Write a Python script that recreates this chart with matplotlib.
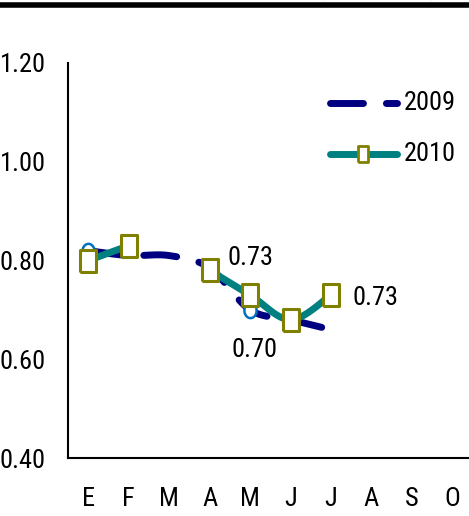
# coding=utf8
import numpy as np
import matplotlib
matplotlib.use('Agg')
import matplotlib.pyplot as plt
from matplotlib import font_manager

# the original uses a narrow font; take one if it is installed
fs = 15
family = ['Liberation Sans', 'DejaVu Sans']
for name in ['Liberation Sans Narrow', 'Roboto Condensed', 'Open Sans Condensed']:
    try:
        font_manager.findfont(font_manager.FontProperties(family=name),
                              fallback_to_default=False)
        family = [name, 'DejaVu Sans']
        fs = 19
        break
    except ValueError:
        pass
plt.rcParams['font.family'] = family

months = ['E', 'F', 'M', 'A', 'M', 'J', 'J', 'A', 'S', 'O']
y_ticks = [0.40, 0.60, 0.80, 1.00, 1.20]

# 2009 series (Jan-Jul)
x_2009 = [0, 1, 2, 3, 4, 5, 6]
v_2009 = [0.82, 0.81, 0.81, 0.785, 0.70, 0.68, 0.66]

# 2010 series (no value for March)
x_2010 = [0, 1, 3, 4, 5, 6]
v_2010 = [0.80, 0.83, 0.78, 0.73, 0.68, 0.73]


def smooth(xs, ys, n=30):
    # excel-like smoothed line (catmull-rom through the points)
    xs = np.asarray(xs, float)
    ys = np.asarray(ys, float)
    px = np.concatenate([[xs[0]], xs, [xs[-1]]])
    py = np.concatenate([[ys[0]], ys, [ys[-1]]])
    out_x, out_y = [], []
    t = np.linspace(0, 1, n)
    for i in range(1, len(px) - 2):
        p0 = np.array([px[i], py[i]])
        p3 = np.array([px[i + 1], py[i + 1]])
        c1 = p0 + (np.array([px[i + 1], py[i + 1]]) - np.array([px[i - 1], py[i - 1]])) / 6
        c2 = p3 - (np.array([px[i + 2], py[i + 2]]) - np.array([px[i], py[i]])) / 6
        b = ((1 - t) ** 3)[:, None] * p0 + (3 * (1 - t) ** 2 * t)[:, None] * c1 \
            + (3 * (1 - t) * t ** 2)[:, None] * c2 + (t ** 3)[:, None] * p3
        out_x.extend(b[:, 0])
        out_y.extend(b[:, 1])
    return out_x, out_y


def segments(xs, ys):
    # split where a month is missing
    segs = [[[xs[0]], [ys[0]]]]
    for i in range(1, len(xs)):
        if xs[i] - xs[i - 1] > 1:
            segs.append([[], []])
        segs[-1][0].append(xs[i])
        segs[-1][1].append(ys[i])
    return segs


navy = '#000080'
teal = '#008080'
olive = '#808000'
light_blue = '#0070C0'
dash = (0, (4.75, 3.3))

rect = [(-0.7, -1), (0.7, -1), (0.7, 1), (-0.7, 1), (-0.7, -1)]
th = np.linspace(0, 2 * np.pi, 41)
oval = list(zip(0.8 * np.cos(th), np.sin(th)))

fig = plt.figure(figsize=(4.69, 5.16), dpi=100)
ax = fig.add_axes([68 / 469, 58 / 516, 401 / 469, 395 / 516])

# 2009
sx, sy = smooth(x_2009, v_2009)
ax.plot(sx, sy, color=navy, lw=5, linestyle=dash,
        dash_capstyle='round', solid_capstyle='round', zorder=2)
ax.plot([x_2009[0], x_2009[4]], [v_2009[0], v_2009[4]], linestyle='none',
        marker=oval, ms=11, mfc='white', mec=light_blue, mew=1.8, zorder=3)

# 2010
for seg_x, seg_y in segments(x_2010, v_2010):
    sx, sy = smooth(seg_x, seg_y)
    ax.plot(sx, sy, color=teal, lw=5, solid_capstyle='round', zorder=4)
ax.plot(x_2010, v_2010, linestyle='none', marker=rect, ms=16,
        mfc='white', mec=olive, mew=2.2, zorder=5)

# data labels
lab_kw = dict(textcoords='offset points', ha='center', va='center', fontsize=fs)
ax.annotate('%.2f' % v_2010[3], (x_2010[3], v_2010[3]), xytext=(0, 27), **lab_kw)
ax.annotate('%.2f' % v_2009[4], (x_2009[4], v_2009[4]), xytext=(3, -29), **lab_kw)
ax.annotate('%.2f' % v_2010[5], (x_2010[5], v_2010[5]), xytext=(32, -2), **lab_kw)

# legend drawn by hand like the original
ax.plot([5.98, 7.62], [1.12, 1.12], color=navy, lw=5, linestyle=dash,
        dash_capstyle='round', clip_on=False)
ax.text(7.8, 1.12, '2009', va='center', ha='left', fontsize=fs)
ax.plot([5.98, 7.62], [1.016, 1.016], color=teal, lw=5, solid_capstyle='round')
ax.plot([6.8], [1.016], linestyle='none', marker=rect, ms=11,
        mfc='white', mec=olive, mew=2)
ax.text(7.8, 1.016, '2010', va='center', ha='left', fontsize=fs)

ax.set_xlim(-0.5, 9.41)
ax.set_ylim(0.40, 1.20)
ax.set_xticks(range(len(months)))
ax.set_xticklabels(months, fontsize=fs)
ax.set_yticks(y_ticks)
ax.set_yticklabels(['%.2f' % v for v in y_ticks], fontsize=fs)
ax.tick_params(axis='both', length=0)
ax.tick_params(axis='x', pad=21)
ax.tick_params(axis='y', pad=16)
ax.spines['top'].set_visible(False)
ax.spines['right'].set_visible(False)
ax.spines['left'].set_linewidth(1.5)
ax.spines['bottom'].set_linewidth(1.5)

# black rule at the top of the page and the cut off subtitle
fig.add_artist(plt.Line2D([0, 1], [1 - 5 / 516, 1 - 5 / 516], color='black',
                          lw=4, transform=fig.transFigure))
fig.text(436 / 469, 1 + 3 / 516, '(puntos, rating)', ha='right', va='baseline',
         fontsize=14)

fig.savefig('out.png', dpi=100)
plt.close()
